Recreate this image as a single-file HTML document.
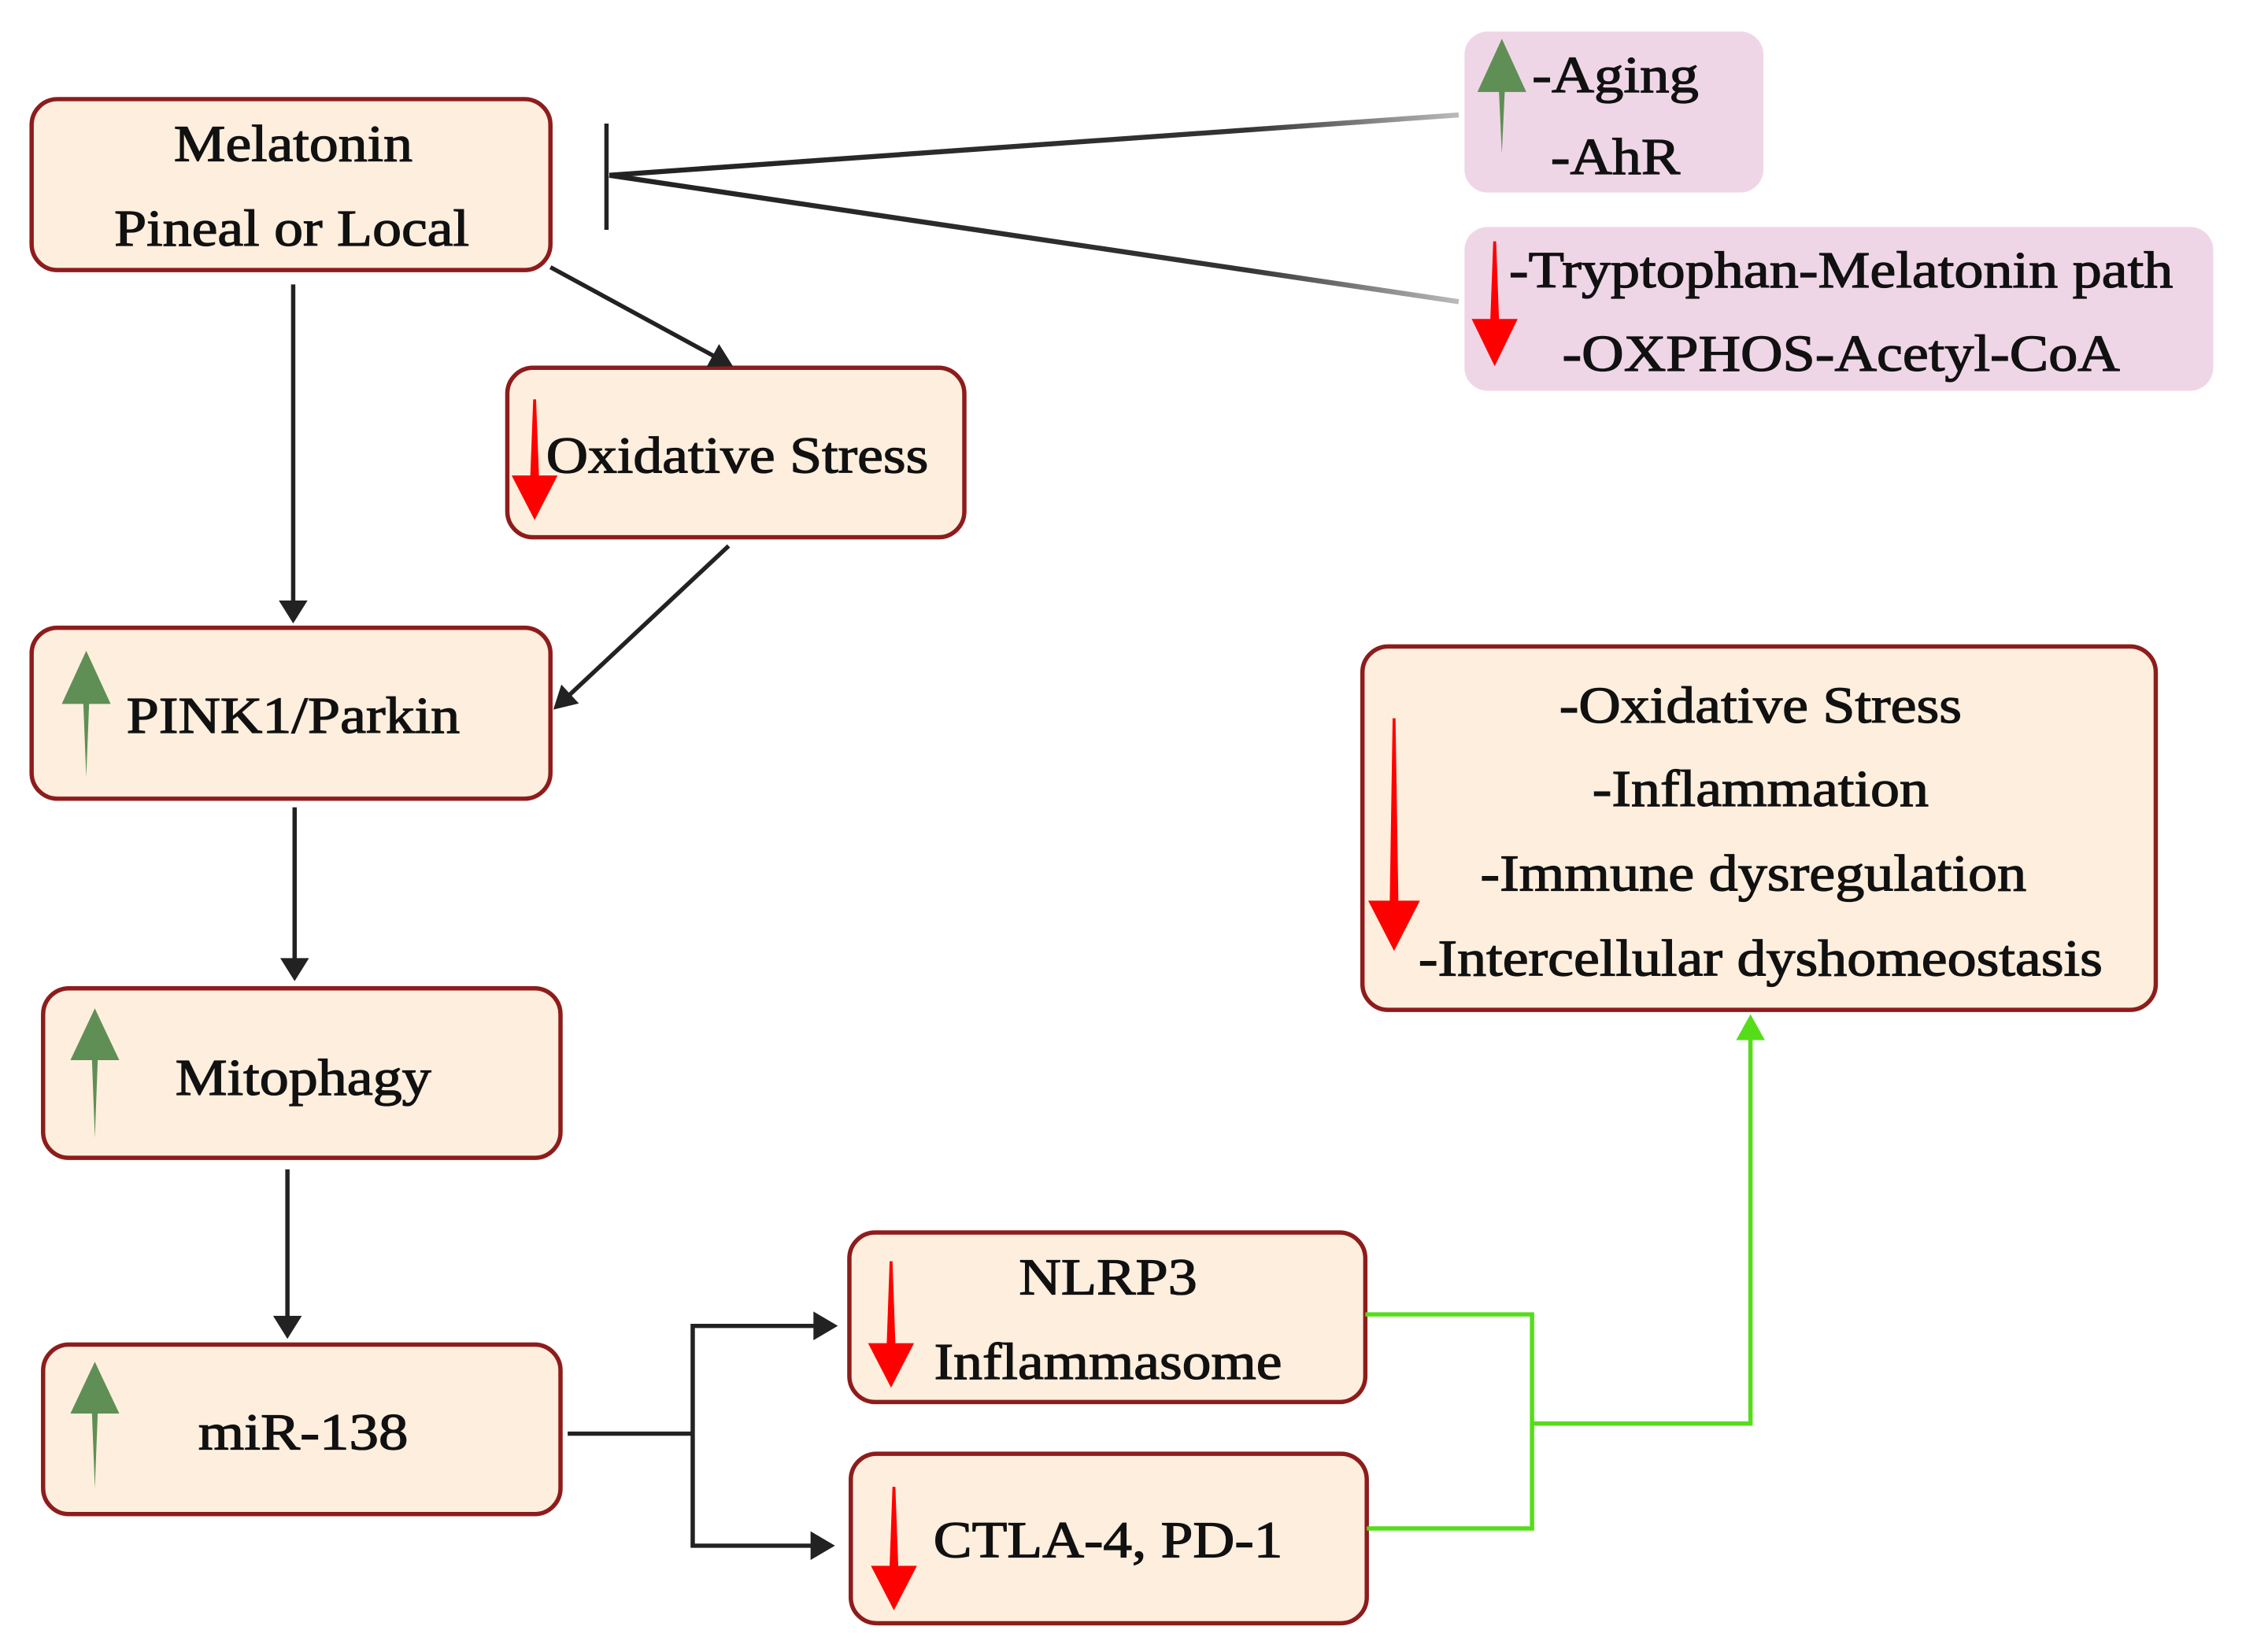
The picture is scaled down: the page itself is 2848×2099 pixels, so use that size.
<!DOCTYPE html>
<html><head><meta charset="utf-8"><style>
html,body{margin:0;padding:0;background:#fff;}
svg{display:block;}
text{font-family:"Liberation Serif",serif;fill:#111;stroke:#111;stroke-width:0.7;}
</style></head><body>
<svg width="2848" height="2099" viewBox="0 0 1560 1150" preserveAspectRatio="none" xmlns="http://www.w3.org/2000/svg">
<defs>
<linearGradient id="g1" x1="0" y1="0" x2="1" y2="0"><stop offset="0" stop-color="#222"/><stop offset="0.75" stop-color="#333"/><stop offset="1" stop-color="#bbb"/></linearGradient>
</defs>
<g fill="#fdeedd" stroke="#8e1c1c" stroke-width="3">
<rect x="22" y="69" width="361" height="119" rx="18"/>
<rect x="353" y="256" width="318" height="118" rx="18"/>
<rect x="22" y="437" width="361" height="119" rx="18"/>
<rect x="30" y="688" width="360" height="118" rx="18"/>
<rect x="30" y="936" width="360" height="118" rx="18"/>
<rect x="591" y="858" width="359" height="118" rx="18"/>
<rect x="592" y="1012" width="359" height="118" rx="18"/>
<rect x="948" y="450" width="552" height="253" rx="18"/>
</g>
<rect x="1019" y="22" width="208" height="112" rx="16" fill="#efd6e7"/>
<rect x="1019" y="158" width="521" height="114" rx="16" fill="#efd6e7"/>

<g stroke="#222" stroke-width="3" fill="none">
<line x1="422" y1="86" x2="422" y2="160"/>
<line x1="204" y1="198" x2="204" y2="420"/>
<line x1="205" y1="562" x2="205" y2="668"/>
<line x1="200" y1="814" x2="200" y2="918"/>
<line x1="383" y1="186" x2="497" y2="248"/>
<line x1="507" y1="380" x2="396" y2="484"/>
<polyline points="395,998 482,998"/>
<polyline points="568,923 482,923 482,1076 566,1076"/>
</g>
<line x1="424" y1="122" x2="1015" y2="80" stroke="url(#g1)" stroke-width="3.5"/>
<line x1="424" y1="122" x2="1015" y2="210" stroke="url(#g1)" stroke-width="3.5"/>
<g fill="#222">
<polygon points="194,418 214,418 204,434"/>
<polygon points="195,667 215,667 205,683"/>
<polygon points="190,916 210,916 200,932"/>
<polygon points="510,255 491.7,255.3 500.3,239.5"/>
<polygon points="385,494 402.8,489.7 390.6,476.5"/>
<polygon points="566,913 566,933 583,923"/>
<polygon points="564,1066 564,1086 581,1076"/>
</g>
<g stroke="#55dd1a" stroke-width="3" fill="none">
<polyline points="950,915 1066,915 1066,1064 951,1064"/>
<polyline points="1066,991 1218,991 1218,722"/>
</g>
<polygon points="1208,724 1228,724 1218,706" fill="#55dd1a"/>

<g fill="#5f8f55">
<polygon points="60,453 77,490 62,490 60,541 58,490 43,490"/>
<polygon points="66,702 83,738 68,738 66,792 64,738 49,738"/>
<polygon points="66,948 83,984 68,984 66,1036 64,984 49,984"/>
<polygon points="1045,27 1062,64 1047,64 1045,107 1043,64 1028,64"/>
</g>
<g fill="#ff0000">
<polygon points="371,278 373,278 375,331 388,331 372,362 356,331 369,331"/>
<polygon points="619,878 621,878 623,935 636,935 620,966 604,935 617,935"/>
<polygon points="621,1035 623,1035 625,1090 638,1090 622,1121 606,1090 619,1090"/>
<polygon points="969,500 971,500 973,627 988,627 970,662 952,627 967,627"/>
<polygon points="1039,168 1041,168 1043,222 1056,222 1040,255 1024,222 1037,222"/>
</g>

<g font-size="36" text-anchor="middle">
<text x="204" y="112" textLength="166" lengthAdjust="spacingAndGlyphs">Melatonin</text>
<text x="203" y="171" textLength="247" lengthAdjust="spacingAndGlyphs">Pineal or Local</text>
<text x="513" y="329" textLength="266" lengthAdjust="spacingAndGlyphs">Oxidative Stress</text>
<text x="204" y="510" textLength="232" lengthAdjust="spacingAndGlyphs">PINK1/Parkin</text>
<text x="211" y="762" textLength="178" lengthAdjust="spacingAndGlyphs">Mitophagy</text>
<text x="211" y="1009" textLength="146" lengthAdjust="spacingAndGlyphs">miR-138</text>
<text x="771" y="901" textLength="124" lengthAdjust="spacingAndGlyphs">NLRP3</text>
<text x="771" y="960" textLength="242" lengthAdjust="spacingAndGlyphs">Inflammasome</text>
<text x="771" y="1084" textLength="243" lengthAdjust="spacingAndGlyphs">CTLA-4, PD-1</text>
<text x="1225" y="503" textLength="280" lengthAdjust="spacingAndGlyphs">-Oxidative Stress</text>
<text x="1225" y="561" textLength="234" lengthAdjust="spacingAndGlyphs">-Inflammation</text>
<text x="1220" y="620" textLength="380" lengthAdjust="spacingAndGlyphs">-Immune dysregulation</text>
<text x="1225" y="679" textLength="476" lengthAdjust="spacingAndGlyphs">-Intercellular dyshomeostasis</text>
</g>
<g font-size="36">
<text x="1066" y="64" textLength="116" lengthAdjust="spacingAndGlyphs">-Aging</text>
<text x="1079" y="121" textLength="90" lengthAdjust="spacingAndGlyphs">-AhR</text>
<text x="1050" y="200" textLength="462" lengthAdjust="spacingAndGlyphs">-Tryptophan-Melatonin path</text>
<text x="1087" y="258" textLength="388" lengthAdjust="spacingAndGlyphs">-OXPHOS-Acetyl-CoA</text>
</g>
</svg>
</body></html>
